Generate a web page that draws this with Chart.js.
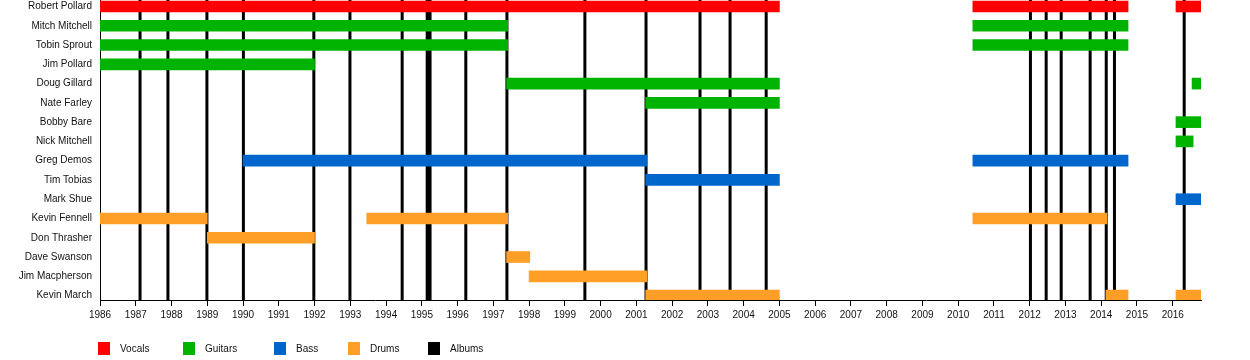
<!DOCTYPE html>
<html>
<head>
<meta charset="utf-8">
<title>Band timeline</title>
<script src="https://cdn.jsdelivr.net/npm/chart.js@4.4.0/dist/chart.umd.min.js"></script>
<style>
  html, body { margin: 0; padding: 0; background: #fff; }
  #wrap { position: relative; width: 1250px; height: 360px; }
</style>
</head>
<body>
<div id="wrap"><canvas id="timeline"></canvas></div>
<script>
// Members, top to bottom
const members = [
    'Robert Pollard', 'Mitch Mitchell', 'Tobin Sprout', 'Jim Pollard',
    'Doug Gillard', 'Nate Farley', 'Bobby Bare', 'Nick Mitchell',
    'Greg Demos', 'Tim Tobias', 'Mark Shue', 'Kevin Fennell',
    'Don Thrasher', 'Dave Swanson', 'Jim Macpherson', 'Kevin March'
];

// [member, from, to] in decimal years
const vocals = [
    ['Robert Pollard', 1986.0, 2005.0],
    ['Robert Pollard', 2010.41, 2014.75],
    ['Robert Pollard', 2016.09, 2016.79]
];
const guitars = [
    ['Mitch Mitchell', 1986.0, 1997.4],
    ['Mitch Mitchell', 2010.41, 2014.75],
    ['Tobin Sprout', 1986.0, 1997.4],
    ['Tobin Sprout', 2010.41, 2014.75],
    ['Jim Pollard', 1986.0, 1992.0],
    ['Doug Gillard', 1997.37, 2005.0],
    ['Doug Gillard', 2016.54, 2016.79],
    ['Nate Farley', 2001.26, 2005.0],
    ['Bobby Bare', 2016.09, 2016.79],
    ['Nick Mitchell', 2016.09, 2016.57]
];
const bass = [
    ['Greg Demos', 1990.0, 2001.29],
    ['Greg Demos', 2010.41, 2014.75],
    ['Tim Tobias', 2001.26, 2005.0],
    ['Mark Shue', 2016.09, 2016.79]
];
const drums = [
    ['Kevin Fennell', 1986.0, 1989.0],
    ['Kevin Fennell', 1993.46, 1997.4],
    ['Kevin Fennell', 2010.41, 2014.16],
    ['Don Thrasher', 1989.0, 1992.0],
    ['Dave Swanson', 1997.37, 1998.02],
    ['Jim Macpherson', 1998.0, 2001.29],
    ['Kevin March', 2001.26, 2005.0],
    ['Kevin March', 2014.13, 2014.75],
    ['Kevin March', 2016.09, 2016.79]
];

// Album release dates
const albums = [
    1987.12, 1987.9, 1988.99, 1990.01, 1991.98, 1992.99, 1994.45,
    1995.15, 1995.23, 1996.23, 1997.38, 1999.56, 2001.27, 2002.78,
    2003.62, 2004.63, 2012.02, 2012.46, 2012.88, 2013.69, 2014.14,
    2014.37, 2016.32
];

const yearTicks = [
    1986, 1987, 1988, 1989, 1990, 1991, 1992, 1993, 1994, 1995, 1996,
    1997, 1998, 1999, 2000, 2001, 2002, 2003, 2004, 2005, 2006, 2007,
    2008, 2009, 2010, 2011, 2012, 2013, 2014, 2015, 2016
];

const xMin = 1986, xMax = 2016.79;
const yMin = -0.337, yMax = 15.23;
const FONT = '"Liberation Sans", Arial, sans-serif';
const TEXT = '#111';

function toBars(spans) {
    return spans.map(([name, from, to]) => ({ y: members.indexOf(name), x: [from, to] }));
}

function albumSegments() {
    const pts = [];
    albums.forEach(a => {
        pts.push({ x: a, y: yMin }, { x: a, y: yMax }, { x: a, y: null });
    });
    return pts;
}

function barSet(label, spans, color) {
    return {
        type: 'bar',
        label: label,
        data: toBars(spans),
        backgroundColor: color,
        borderColor: color,
        borderWidth: 0,
        borderSkipped: false,
        barThickness: 11,
        grouped: false,
        order: 1
    };
}

// simple one-row legend under the axis
const legendX = [98, 183, 274, 348, 428];
const roleLegend = {
    id: 'roleLegend',
    afterDraw(chart) {
        const ctx = chart.ctx;
        ctx.save();
        ctx.font = '10px ' + FONT;
        ctx.textBaseline = 'middle';
        ctx.textAlign = 'left';
        chart.data.datasets.forEach((ds, i) => {
            const x = legendX[i];
            ctx.fillStyle = ds.borderColor;
            ctx.fillRect(x, 342, 12, 13);
            ctx.fillStyle = TEXT;
            ctx.fillText(ds.label, x + 22, 349);
        });
        ctx.restore();
    }
};

new Chart(document.getElementById('timeline'), {
    type: 'bar',
    data: {
        datasets: [
            barSet('Vocals', vocals, '#ff0000'),
            barSet('Guitars', guitars, '#00b300'),
            barSet('Bass', bass, '#0066cc'),
            barSet('Drums', drums, '#ff9f27'),
            {
                type: 'line',
                label: 'Albums',
                indexAxis: 'x',
                data: albumSegments(),
                borderColor: '#000',
                backgroundColor: '#000',
                borderWidth: 3,
                borderCapStyle: 'butt',
                pointRadius: 0,
                spanGaps: false,
                fill: false,
                order: 2
            }
        ]
    },
    options: {
        indexAxis: 'y',
        responsive: true,
        maintainAspectRatio: false,
        animation: false,
        layout: { padding: { top: 0, right: 49, bottom: 0, left: 0 } },
        scales: {
            x: {
                type: 'linear',
                position: 'bottom',
                min: xMin,
                max: xMax,
                offset: false,
                afterBuildTicks: s => { s.ticks = yearTicks.map(v => ({ value: v })); },
                afterFit: s => { s.height = 60; s.paddingLeft = 0; s.paddingRight = 0; },
                ticks: {
                    callback: v => String(v),
                    font: { size: 10, family: FONT },
                    color: TEXT,
                    padding: 3,
                    maxRotation: 0,
                    autoSkip: false
                },
                grid: { drawOnChartArea: false, drawTicks: true, tickLength: 6, color: '#000', offset: false },
                border: { color: '#000', width: 1 }
            },
            y: {
                type: 'linear',
                reverse: true,
                min: yMin,
                max: yMax,
                offset: false,
                afterBuildTicks: s => { s.ticks = members.map((_, i) => ({ value: i })); },
                afterFit: s => { s.width = 100; s.paddingTop = 0; s.paddingBottom = 0; },
                ticks: {
                    callback: v => members[v],
                    font: { size: 10, family: FONT },
                    color: TEXT,
                    padding: 8,
                    autoSkip: false
                },
                grid: { drawOnChartArea: false, drawTicks: false, offset: false },
                border: { color: '#000', width: 1 }
            }
        },
        plugins: {
            legend: { display: false },
            tooltip: { enabled: false }
        }
    },
    plugins: [roleLegend]
});
</script>
</body>
</html>
